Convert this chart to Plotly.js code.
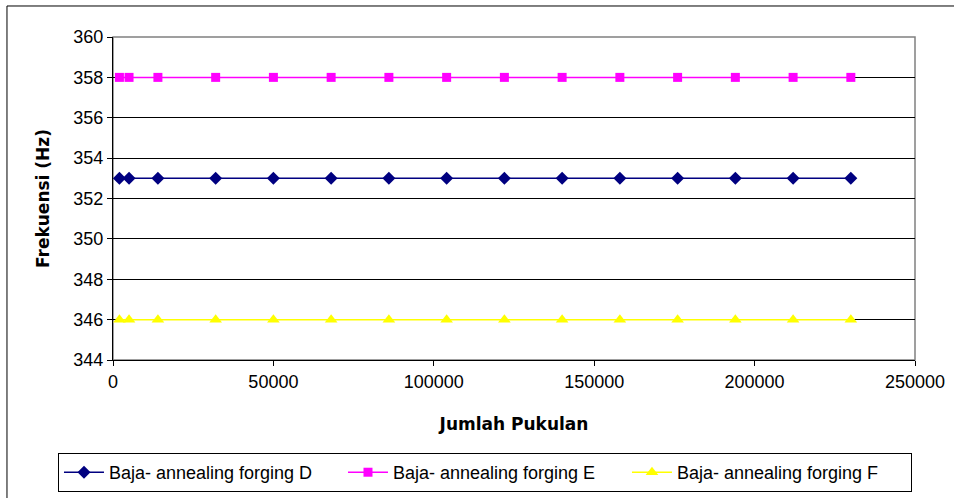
<!DOCTYPE html>
<html>
<head>
<meta charset="utf-8">
<script src="https://cdn.plot.ly/plotly-3.0.1.min.js"></script>
<style>html,body{margin:0;padding:0;background:#fff;}#chart{width:954px;height:498px;}</style>
</head>
<body>
<div id="chart"></div>
<script>
const jumlahPukulan = [2000, 5000, 14000, 32000, 50000, 68000, 86000, 104000, 122000, 140000, 158000, 176000, 194000, 212000, 230000];
const frekD = [353, 353, 353, 353, 353, 353, 353, 353, 353, 353, 353, 353, 353, 353, 353];
const frekE = [358, 358, 358, 358, 358, 358, 358, 358, 358, 358, 358, 358, 358, 358, 358];
const frekF = [346, 346, 346, 346, 346, 346, 346, 346, 346, 346, 346, 346, 346, 346, 346];
const seriesNames = ['Baja- annealing forging D', 'Baja- annealing forging E', 'Baja- annealing forging F'];

const font = 'Liberation Sans, Arial, sans-serif';
const titleFont = 'DejaVu Sans, sans-serif';
const traces = [
  {x: jumlahPukulan, y: frekD, name: seriesNames[0], mode: 'lines+markers',
   line: {color: '#000080', width: 1.5}, marker: {symbol: 'diamond', size: 10, color: '#000080'}},
  {x: jumlahPukulan, y: frekE, name: seriesNames[1], mode: 'lines+markers',
   line: {color: '#FF00FF', width: 1.5}, marker: {symbol: 'square', size: 9, color: '#FF00FF'}},
  {x: jumlahPukulan, y: frekF, name: seriesNames[2], mode: 'lines+markers',
   line: {color: '#FFFF00', width: 1.5}, marker: {symbol: 'triangle-up', size: 11, color: '#FFFF00'}}
];

const layout = {
  width: 954, height: 498,
  margin: {l: 113, r: 39, t: 37, b: 138, autoexpand: false},
  paper_bgcolor: '#fff', plot_bgcolor: '#fff',
  font: {family: font, size: 18, color: '#000'},
  showlegend: true,
  xaxis: {
    range: [0, 250000], tick0: 0, dtick: 50000, tickformat: 'd',
    showgrid: false, zeroline: false, showline: true, linecolor: '#000', linewidth: 1,
    ticks: 'outside', ticklen: 5, tickcolor: '#000',
    tickfont: {family: font, size: 18},
    title: {text: '<b>Jumlah Pukulan</b>', font: {family: titleFont, size: 17}, standoff: 27}
  },
  yaxis: {
    range: [344, 360], tick0: 344, dtick: 2,
    showgrid: true, gridcolor: '#000', gridwidth: 1, zeroline: false,
    showline: true, linecolor: '#000', linewidth: 1,
    ticks: 'outside', ticklen: 5, tickcolor: '#000',
    tickfont: {family: font, size: 18},
    title: {text: '<b>Frekuensi (Hz)</b>', font: {family: titleFont, size: 17}, standoff: 19}
  },
  legend: {
    orientation: 'h', x: -0.0686, xanchor: 'left', y: -0.288, yanchor: 'top',
    bordercolor: '#000', borderwidth: 1, bgcolor: '#fff',
    font: {family: font, size: 18}, itemwidth: 40, entrywidth: 229, tracegroupgap: 0
  },
  shapes: [
    {type: 'rect', xref: 'paper', yref: 'paper', x0: 0, x1: 1, y0: 0, y1: 1,
     line: {color: '#808080', width: 1.5}, layer: 'below'},
    {type: 'rect', xref: 'paper', yref: 'paper', x0: -0.1322, x1: 1.2, y0: -0.6, y1: 1.096,
     line: {color: '#000', width: 1}, layer: 'below'}
  ]
};

Plotly.newPlot('chart', traces, layout, {displayModeBar: false, staticPlot: true});
</script>
</body>
</html>
